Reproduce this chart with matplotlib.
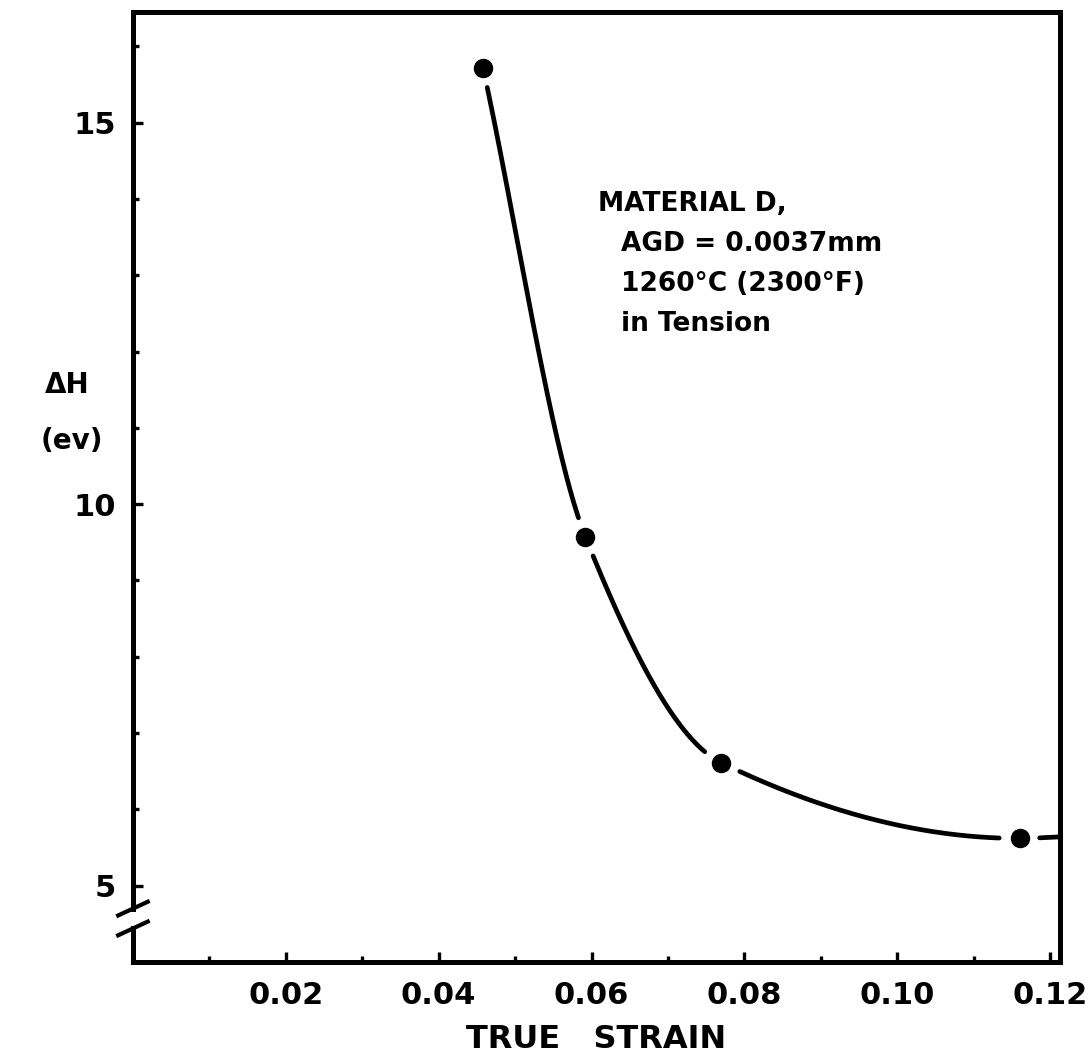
import numpy as np
import matplotlib
matplotlib.use('Agg')
import matplotlib.pyplot as plt
from matplotlib.ticker import MultipleLocator, FixedLocator

# measured activation enthalpy vs true strain
strain = [0.0458, 0.0592, 0.0770, 0.1160]
delta_h = [15.72, 9.57, 6.61, 5.62]

# faired curve runs on past the last point to the frame
curve_end_x = 0.1213
curve_end_y = 5.64

x_ticks = [0.02, 0.04, 0.06, 0.08, 0.10, 0.12]
x_tick_labels = ["0.02", "0.04", "0.06", "0.08", "0.10", "0.12"]
y_ticks = [5, 10, 15]

note_lines = ["MATERIAL D,", "AGD = 0.0037mm", "1260°C (2300°F)", "in Tension"]

FONT = "DejaVu Sans"


def monotone_cubic(xk, yk, xs):
    xk = np.asarray(xk, float)
    yk = np.asarray(yk, float)
    h = np.diff(xk)
    d = np.diff(yk) / h
    m = np.zeros_like(yk)
    for k in range(1, len(xk) - 1):
        if d[k - 1] * d[k] > 0:
            w1 = 2 * h[k] + h[k - 1]
            w2 = h[k] + 2 * h[k - 1]
            m[k] = (w1 + w2) / (w1 / d[k - 1] + w2 / d[k])
    m[0] = d[0]
    m[-1] = d[-1]
    idx = np.clip(np.searchsorted(xk, xs) - 1, 0, len(h) - 1)
    t = (xs - xk[idx]) / h[idx]
    h00 = 2 * t**3 - 3 * t**2 + 1
    h10 = t**3 - 2 * t**2 + t
    h01 = -2 * t**3 + 3 * t**2
    h11 = t**3 - t**2
    return (h00 * yk[idx] + h10 * h[idx] * m[idx]
            + h01 * yk[idx + 1] + h11 * h[idx] * m[idx + 1])


fig = plt.figure(figsize=(10.89, 10.63), dpi=100)
ax = fig.add_axes([0.1221, 0.095, 0.8513, 0.8937])

ax.set_xlim(0, 0.1213)
ax.set_ylim(4.0, 16.45)

# smooth curve with gaps left open around each point
cx = list(strain) + [curve_end_x]
cy = list(delta_h) + [curve_end_y]
xs = np.linspace(cx[0], cx[-1], 1500)
ys = monotone_cubic(cx, cy, xs)
fig.canvas.draw()
disp = ax.transData.transform(np.column_stack([xs, ys]))
pts = ax.transData.transform(np.column_stack([strain, delta_h]))
ys_gapped = ys.copy()
for p in pts:
    near = np.hypot(disp[:, 0] - p[0], disp[:, 1] - p[1]) < 20
    ys_gapped[near] = np.nan
ax.plot(xs, ys_gapped, color="black", lw=3.4, solid_capstyle="round",
        clip_on=False)
ax.plot(strain, delta_h, "o", color="black", ms=13, zorder=5)

# frame
for side in ["top", "right", "bottom"]:
    ax.spines[side].set_linewidth(3.6)
ax.spines["left"].set_visible(False)

# broken left axis
yax = ax.get_yaxis_transform()
ax.plot([0, 0], [4.0, 4.44], color="black", lw=3.6, transform=yax,
        clip_on=False, solid_capstyle="projecting")
ax.plot([0, 0], [4.70, 16.45], color="black", lw=3.6, transform=yax,
        clip_on=False, solid_capstyle="projecting")
for yb in [4.44, 4.70]:
    ax.plot([-0.016, 0.016], [yb - 0.09, yb + 0.09], color="black", lw=3.0,
            transform=yax, clip_on=False)

ax.xaxis.set_major_locator(FixedLocator(x_ticks))
ax.xaxis.set_minor_locator(MultipleLocator(0.01))
ax.set_xticklabels(x_tick_labels)
ax.yaxis.set_major_locator(FixedLocator(y_ticks))
ax.yaxis.set_minor_locator(MultipleLocator(1))

ax.tick_params(which="both", direction="in", width=2.4, colors="black")
ax.tick_params(which="major", length=7)
ax.tick_params(which="minor", length=4)
ax.tick_params(axis="x", which="major", pad=14, labelsize=22)
ax.tick_params(axis="y", which="major", pad=12, labelsize=22)
for lab in ax.get_xticklabels() + ax.get_yticklabels():
    lab.set_fontfamily(FONT)
    lab.set_fontweight("bold")

ax.set_xlabel("TRUE   STRAIN", fontsize=23, fontweight="bold", family=FONT,
              labelpad=10)

ax.text(-0.095, 0.607, "ΔH", transform=ax.transAxes, fontsize=20,
        fontweight="bold", family=FONT, ha="left", va="center")
ax.text(-0.100, 0.548, "(ev)", transform=ax.transAxes, fontsize=20,
        fontweight="bold", family=FONT, ha="left", va="center")

ax.text(0.502, 0.798, note_lines[0], transform=ax.transAxes, fontsize=19,
        fontweight="bold", family=FONT, ha="left", va="center")
for i, line in enumerate(note_lines[1:]):
    ax.text(0.526, 0.756 - 0.042 * i, line, transform=ax.transAxes,
            fontsize=19, fontweight="bold", family=FONT, ha="left",
            va="center")

fig.savefig("out.png", dpi=100, facecolor="white")
